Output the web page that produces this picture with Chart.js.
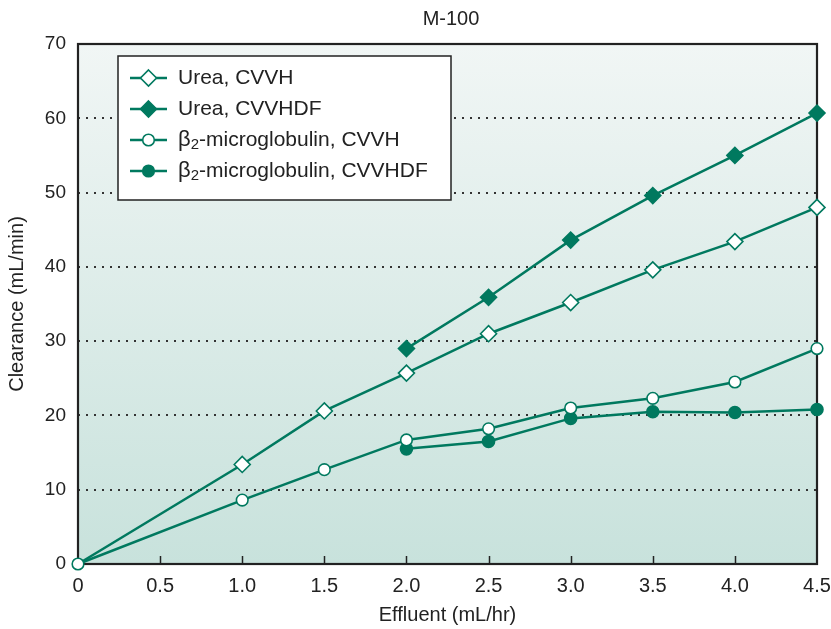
<!DOCTYPE html>
<html>
<head>
<meta charset="utf-8">
<script src="https://cdn.jsdelivr.net/npm/chart.js@4.4.1/dist/chart.umd.min.js"></script>
<style>
  html, body { margin: 0; padding: 0; background: #fff; }
  #wrap { position: relative; width: 831px; height: 629px; }
</style>
</head>
<body>
<div id="wrap"><canvas id="clearanceChart" width="831" height="629"></canvas></div>
<script>
// values
const ureaCvvhX = [0, 1.0, 1.5, 2.0, 2.5, 3.0, 3.5, 4.0, 4.5];
const ureaCvvh = [0, 13.4, 20.6, 25.7, 31.0, 35.2, 39.6, 43.4, 48.0];
const ureaCvvhdfX = [2.0, 2.5, 3.0, 3.5, 4.0, 4.5];
const ureaCvvhdf = [29.0, 35.9, 43.6, 49.6, 55.0, 60.7];
const b2CvvhX = [0, 1.0, 1.5, 2.0, 2.5, 3.0, 3.5, 4.0, 4.5];
const b2Cvvh = [0, 8.6, 12.7, 16.7, 18.2, 21.0, 22.3, 24.5, 29.0];
const b2CvvhdfX = [2.0, 2.5, 3.0, 3.5, 4.0, 4.5];
const b2Cvvhdf = [15.5, 16.5, 19.6, 20.5, 20.4, 20.8];

const seriesNames = ['Urea, CVVH', 'Urea, CVVHDF', 'β2-microglobulin, CVVH', 'β2-microglobulin, CVVHDF'];
const xTicks = [0, 0.5, 1.0, 1.5, 2.0, 2.5, 3.0, 3.5, 4.0, 4.5];
const yTicks = [0, 10, 20, 30, 40, 50, 60, 70];

const TEAL = '#00795f';
const FONT = '"Liberation Sans", Arial, sans-serif';

function pts(xs, ys) {
    return xs.map(function (x, i) { return { x: x, y: ys[i] }; });
}

function makeSet(label, xs, ys, style, filled, radius, order) {
    return {
        label: label,
        data: pts(xs, ys),
        order: order,
        borderColor: TEAL,
        borderWidth: 2.5,
        pointStyle: style,
        // the origin shows only the open circle
        pointRadius: function (c) {
            return (style === 'rectRot' && c.raw && c.raw.x === 0) ? 0 : radius;
        },
        pointHoverRadius: radius,
        pointBorderWidth: 1.6,
        pointBorderColor: TEAL,
        pointBackgroundColor: filled ? TEAL : '#ffffff',
        tension: 0,
        clip: false
    };
}

// background gradient + frame + inward ticks + title + legend
const decorations = {
    id: 'decorations',
    beforeDraw(chart) {
        const a = chart.chartArea;
        const ctx = chart.ctx;
        const g = ctx.createLinearGradient(0, a.top, 0, a.bottom);
        g.addColorStop(0, '#f1f6f5');
        g.addColorStop(1, '#c8e2dc');
        ctx.save();
        ctx.fillStyle = g;
        ctx.fillRect(a.left, a.top, a.right - a.left, a.bottom - a.top);
        ctx.restore();
    },
    beforeDatasetsDraw(chart) {
        const a = chart.chartArea;
        const ctx = chart.ctx;
        const xs = chart.scales.x;
        ctx.save();
        ctx.strokeStyle = '#222';
        ctx.lineWidth = 2.2;
        ctx.strokeRect(a.left, a.top, a.right - a.left, a.bottom - a.top);
        ctx.lineWidth = 1.5;
        xTicks.forEach(function (v) {
            if (v === 0 || v === 4.5) return;
            const px = Math.round(xs.getPixelForValue(v)) + 0.5;
            ctx.beginPath();
            ctx.moveTo(px, a.bottom);
            ctx.lineTo(px, a.bottom - 8);
            ctx.stroke();
        });

        // legend box
        const lx = 118, ly = 56, lw = 333, lh = 144;
        ctx.fillStyle = '#ffffff';
        ctx.fillRect(lx, ly, lw, lh);
        ctx.strokeStyle = '#222';
        ctx.lineWidth = 1.5;
        ctx.strokeRect(lx, ly, lw, lh);
        ctx.restore();
    },
    afterDraw(chart) {
        const ctx = chart.ctx;
        ctx.save();
        ctx.fillStyle = '#222';
        ctx.font = '20px ' + FONT;
        ctx.textAlign = 'center';
        ctx.textBaseline = 'middle';
        ctx.fillText('M-100', 451, 19);

        // legend entries
        const rows = [78, 109, 140, 171];
        chart.data.datasets.forEach(function (ds, i) {
            const y = rows[i];
            ctx.strokeStyle = TEAL;
            ctx.lineWidth = 2.5;
            ctx.beginPath();
            ctx.moveTo(130, y);
            ctx.lineTo(167, y);
            ctx.stroke();
            ctx.fillStyle = ds.pointBackgroundColor;
            ctx.lineWidth = 1.6;
            ctx.beginPath();
            if (ds.pointStyle === 'rectRot') {
                const r = 8;
                ctx.moveTo(148.5, y - r);
                ctx.lineTo(148.5 + r, y);
                ctx.lineTo(148.5, y + r);
                ctx.lineTo(148.5 - r, y);
                ctx.closePath();
            } else {
                ctx.arc(148.5, y, 5.8, 0, Math.PI * 2);
            }
            ctx.fill();
            ctx.stroke();

            ctx.fillStyle = '#222';
            ctx.textAlign = 'left';
            ctx.textBaseline = 'middle';
            const label = ds.label;
            let x = 178;
            if (label.indexOf('β2') === 0) {
                ctx.font = '22px ' + FONT;
                ctx.fillText('β', x, y);
                x += ctx.measureText('β').width;
                ctx.font = '15px ' + FONT;
                ctx.fillText('2', x, y + 5);
                x += ctx.measureText('2').width;
                ctx.font = '21px ' + FONT;
                ctx.fillText(label.slice(2), x, y);
            } else {
                ctx.font = '21px ' + FONT;
                ctx.fillText(label, x, y);
            }
        });
        ctx.restore();
    }
};

new Chart(document.getElementById('clearanceChart'), {
    type: 'line',
    data: {
        datasets: [
            makeSet(seriesNames[0], ureaCvvhX, ureaCvvh, 'rectRot', false, 8, 3),
            makeSet(seriesNames[1], ureaCvvhdfX, ureaCvvhdf, 'rectRot', true, 8, 2),
            makeSet(seriesNames[2], b2CvvhX, b2Cvvh, 'circle', false, 5.8, 0),
            makeSet(seriesNames[3], b2CvvhdfX, b2Cvvhdf, 'circle', true, 6, 1)
        ]
    },
    options: {
        responsive: false,
        animation: false,
        events: [],
        layout: { padding: { top: 44, right: 14, left: 0, bottom: 0 } },
        plugins: {
            legend: { display: false },
            tooltip: { enabled: false }
        },
        scales: {
            x: {
                type: 'linear',
                min: 0,
                max: 4.5,
                afterBuildTicks(scale) {
                    scale.ticks = xTicks.map(function (v) { return { value: v }; });
                },
                afterFit(scale) {
                    scale.height = 65;
                    scale.paddingLeft = 0;
                    scale.paddingRight = 0;
                },
                grid: { display: false },
                border: { display: false },
                ticks: {
                    padding: 2,
                    color: '#222',
                    font: { family: FONT, size: 20 },
                    maxRotation: 0,
                    callback: function (v) { return v === 0 ? '0' : v.toFixed(1); }
                },
                title: {
                    display: true,
                    text: 'Effluent (mL/hr)',
                    color: '#222',
                    font: { family: FONT, size: 20 },
                    padding: { top: 0, bottom: 2 }
                }
            },
            y: {
                min: 0,
                max: 70,
                afterBuildTicks(scale) {
                    scale.ticks = yTicks.map(function (v) { return { value: v }; });
                },
                afterFit(scale) { scale.width = 78; },
                grid: {
                    drawTicks: false,
                    lineWidth: 2,
                    color: function (c) {
                        const v = c.tick && c.tick.value;
                        return (v === 0 || v === 70) ? 'rgba(0,0,0,0)' : '#333';
                    }
                },
                border: { display: false, dash: [2, 6] },
                ticks: {
                    padding: 12,
                    color: '#222',
                    font: { family: FONT, size: 19 }
                },
                title: {
                    display: true,
                    text: 'Clearance (mL/min)',
                    color: '#222',
                    font: { family: FONT, size: 20 },
                    padding: { top: 5, bottom: 2 }
                }
            }
        }
    },
    plugins: [decorations]
});
</script>
</body>
</html>
